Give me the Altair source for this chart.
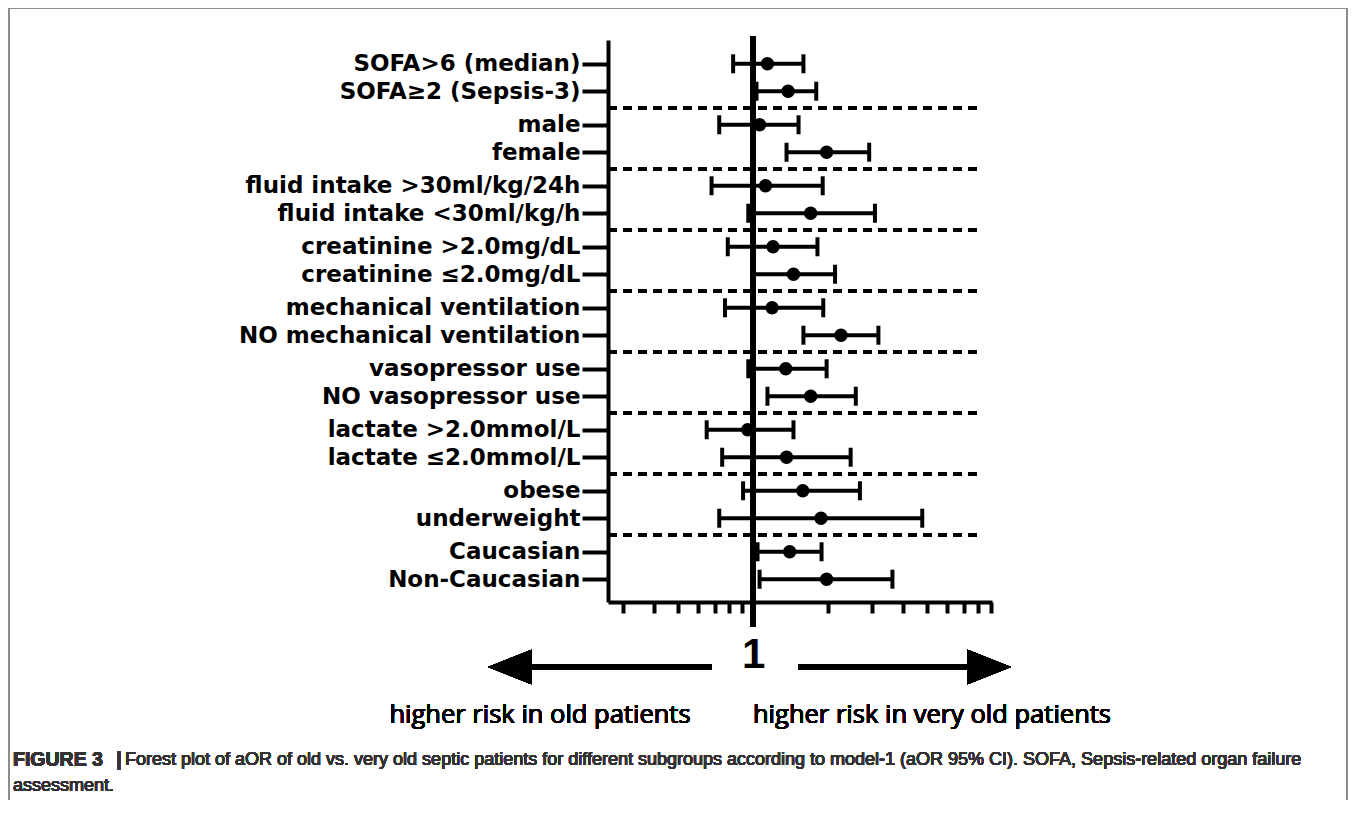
import json
import altair as alt
import pandas as pd

# ---- data ----
labels = ["SOFA>6 (median)", "SOFA≥2 (Sepsis-3)", "male", "female",
          "fluid intake >30ml/kg/24h", "fluid intake <30ml/kg/h",
          "creatinine >2.0mg/dL", "creatinine ≤2.0mg/dL",
          "mechanical ventilation", "NO mechanical ventilation",
          "vasopressor use", "NO vasopressor use",
          "lactate >2.0mmol/L", "lactate ≤2.0mmol/L",
          "obese", "underweight", "Caucasian", "Non-Caucasian"]
aor = [1.14, 1.38, 1.06, 1.97, 1.12, 1.70, 1.20, 1.45, 1.19, 2.25,
       1.35, 1.70, 0.95, 1.36, 1.58, 1.87, 1.40, 1.97]
lower = [0.83, 1.03, 0.73, 1.36, 0.68, 0.955, 0.79, 0.99, 0.77, 1.59,
         0.955, 1.14, 0.65, 0.75, 0.91, 0.73, 1.04, 1.06]
upper = [1.59, 1.79, 1.52, 2.92, 1.90, 3.08, 1.81, 2.13, 1.91, 3.18,
         1.97, 2.58, 1.45, 2.46, 2.68, 4.77, 1.88, 3.62]
x_ticks = [0.3, 0.4, 0.5, 0.6, 0.7, 0.8, 0.9, 1, 2, 3, 4, 5, 6, 7, 8, 9]
left_note = "higher risk in old patients"
right_note = "higher risk in very old patients"
cap_bold = "FIGURE 3"
cap_bar = "|"
cap_line1 = ("Forest plot of aOR of old vs. very old septic patients for different subgroups "
             "according to model-1 (aOR 95% CI). SOFA, Sepsis-related organ failure")
cap_line2 = "assessment."

# ---- layout ----
T, B, L, R = 40, 602, 608, 992          # plot area on the page
W, H = R - L, B - T
TOTAL_W, TOTAL_H = 1340, 792
PAD = {"left": L - 8, "top": T - 8, "right": TOTAL_W - (L - 8) - W,
       "bottom": TOTAL_H - (T - 8) - H}
ROW_UNIT, ROW0 = 61.0, 77.5
ydom = [(T - ROW0) / ROW_UNIT, (B - ROW0) / ROW_UNIT]

def px(x):
    return x - L

def py(y):
    return y - T

n = len(labels)
ypos = [i // 2 + (i % 2 - 0.5) * 0.45 for i in range(n)]
df = pd.DataFrame({"label": labels, "aor": aor, "lo": lower, "hi": upper, "y": ypos})
sep = pd.DataFrame({"y": [k + 0.5 for k in range(n // 2 - 1)]})

xscale = alt.Scale(type="log", domain=[0.261, 9.09], nice=False)
yscale = alt.Scale(domain=ydom, reverse=True, nice=False, zero=False)

label_js = json.dumps(labels, ensure_ascii=False)
ylab_expr = (f"{label_js}[2*round(datum.value) + (datum.value > round(datum.value) ? 1 : 0)]")

yaxis = alt.Axis(values=ypos, labelExpr=ylab_expr, tickSize=26, tickWidth=4,
                 domainWidth=4, domainColor="black", tickColor="black",
                 labelFont="DejaVu Sans", labelFontWeight="bold", labelFontSize=23,
                 labelColor="black", labelPadding=2, labelLimit=500,
                 labelOverlap=False, grid=False, title=None)
xaxis = alt.Axis(values=x_ticks, labelExpr="datum.value == 1 ? '1' : ''",
                 tickSize=11, tickWidth=4, domainWidth=4, domainColor="black",
                 tickColor="black", labelFont="Liberation Sans", labelFontWeight="bold",
                 labelFontSize=42, labelColor="black", labelPadding=21,
                 labelOverlap=False, labelFlush=False, grid=False, title=None)

base = alt.Chart(df)

bars = base.mark_rule(strokeWidth=4, color="black").encode(
    x=alt.X("lo:Q", scale=xscale, axis=xaxis),
    x2="hi:Q",
    y=alt.Y("y:Q", scale=yscale, axis=yaxis),
)
caps = base.transform_fold(["lo", "hi"], as_=["end", "val"]).mark_tick(
    orient="vertical", size=19, thickness=4, color="black", opacity=1
).encode(
    x=alt.X("val:Q", scale=xscale, axis=xaxis),
    y=alt.Y("y:Q", scale=yscale, axis=yaxis),
)
points = base.mark_circle(size=180, color="black", opacity=1).encode(
    x=alt.X("aor:Q", scale=xscale, axis=xaxis),
    y=alt.Y("y:Q", scale=yscale, axis=yaxis),
)
seps = alt.Chart(sep).mark_rule(strokeWidth=4, strokeDash=[9, 6], color="black").encode(
    y=alt.Y("y:Q", scale=yscale, axis=yaxis),
    x=alt.value(0), x2=alt.value(px(983)),
)
refline = alt.Chart(df).mark_rule(strokeWidth=5, color="black").encode(
    x=alt.datum(1), y=alt.value(py(36)), y2=alt.value(py(627)),
)

# arrows
arrow_y = py(667)
shaft_l = alt.Chart(df).mark_rule(strokeWidth=6, color="black").encode(
    x=alt.value(px(530)), x2=alt.value(px(712)), y=alt.value(arrow_y))
shaft_r = alt.Chart(df).mark_rule(strokeWidth=6, color="black").encode(
    x=alt.value(px(798)), x2=alt.value(px(970)), y=alt.value(arrow_y))
head_l = alt.Chart(df).mark_point(
    shape="M -1 0 L 1 -0.8 L 1 0.8 Z", size=44 * 44, filled=True, color="black", opacity=1
).encode(x=alt.value(px(510)), y=alt.value(arrow_y))
head_r = alt.Chart(df).mark_point(
    shape="M 1 0 L -1 -0.8 L -1 0.8 Z", size=44 * 44, filled=True, color="black", opacity=1
).encode(x=alt.value(px(989)), y=alt.value(arrow_y))

note_l = alt.Chart(df).mark_text(text=left_note, font="Open Sans", fontSize=25.5,
                                 fontWeight="normal", color="black",
                                 align="center", baseline="middle").encode(
    x=alt.value(px(540)), y=alt.value(py(715)))
note_r = alt.Chart(df).mark_text(text=right_note, font="Open Sans", fontSize=25.5,
                                 fontWeight="normal", color="black",
                                 align="center", baseline="middle").encode(
    x=alt.value(px(932)), y=alt.value(py(715)))

cap_b = alt.Chart(df).mark_text(text=cap_bold, font="Liberation Sans", fontWeight="bold",
                                fontSize=19.5, color="#333333", align="left",
                                baseline="middle").encode(
    x=alt.value(px(13)), y=alt.value(py(760)))
cap_v = alt.Chart(df).mark_text(text=cap_bar, font="Liberation Sans", fontWeight="bold",
                                fontSize=19.5, color="#333333", align="center",
                                baseline="middle").encode(
    x=alt.value(px(119)), y=alt.value(py(760)))
cap_1 = alt.Chart(df).mark_text(text=cap_line1, font="Liberation Sans", fontSize=18,
                                fontWeight="normal", color="#333333", align="left",
                                baseline="middle").encode(
    x=alt.value(px(125)), y=alt.value(py(760)))
cap_2 = alt.Chart(df).mark_text(text=cap_line2, font="Liberation Sans", fontSize=18,
                                fontWeight="normal", color="#333333", align="left",
                                baseline="middle").encode(
    x=alt.value(px(13)), y=alt.value(py(786)))

# frame
fc = "#8c8c8c"
frame_top = alt.Chart(df).mark_rule(strokeWidth=2, color=fc).encode(
    x=alt.value(px(9)), x2=alt.value(px(1347)), y=alt.value(py(8)))
frame_left = alt.Chart(df).mark_rule(strokeWidth=2, color=fc).encode(
    x=alt.value(px(9)), y=alt.value(py(8)), y2=alt.value(py(820)))
frame_right = alt.Chart(df).mark_rule(strokeWidth=2, color=fc).encode(
    x=alt.value(px(1347)), y=alt.value(py(8)), y2=alt.value(py(820)))

chart = alt.layer(
    bars, seps, refline, caps, points,
    shaft_l, shaft_r, head_l, head_r, note_l, note_r,
    cap_b, cap_v, cap_1, cap_2, frame_top, frame_left, frame_right,
).properties(
    width=W, height=H,
    autosize=alt.AutoSizeParams(type="none"),
    padding=PAD,
    background="white",
).configure_view(stroke=None)

chart.save("out.html", embed_options={"renderer": "svg", "actions": False})
